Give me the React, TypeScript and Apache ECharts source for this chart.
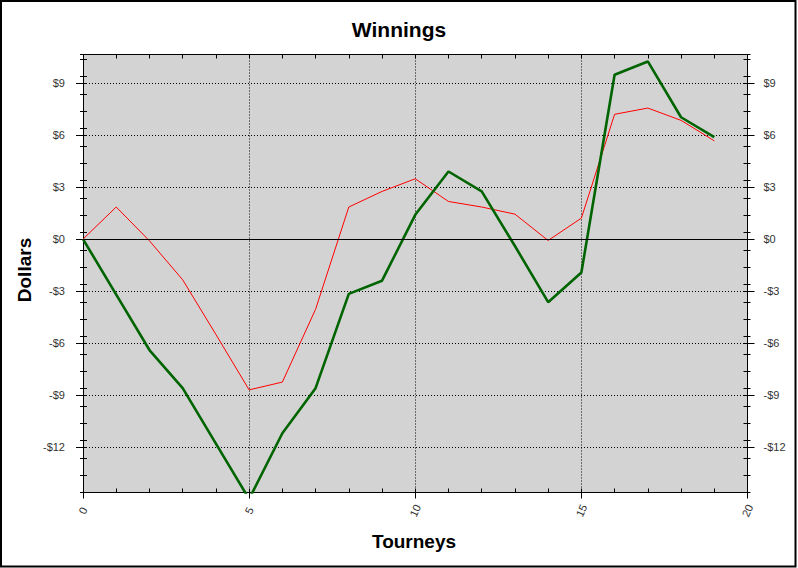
import React, { useEffect, useRef } from "react";
import * as echarts from "echarts";

const tourneys = [0, 1, 2, 3, 4, 5, 6, 7, 8, 9, 10, 11, 12, 13, 14, 15, 16, 17, 18, 19];
const redSeries = [0, 1.85, -0.1, -2.35, -5.5, -8.7, -8.25, -4.05, 1.85, 2.75, 3.48, 2.17, 1.85, 1.44, -0.08, 1.21, 7.2, 7.56, 6.85, 5.67];
const greenSeries = [0, -3.2, -6.4, -8.6, -11.8, -15.0, -11.2, -8.6, -3.16, -2.4, 1.4, 3.9, 2.75, -0.4, -3.64, -1.93, 9.48, 10.25, 7.03, 5.88];
const yTickValues = [-12, -9, -6, -3, 0, 3, 6, 9];
const Y_MIN = -14.62;
const Y_MAX = 10.65;
const X_MIN = 0;
const X_MAX = 20;

const FONT = "'Liberation Sans', Arial, sans-serif";

const fmt = (v: number) => (v < 0 ? "-$" + Math.abs(v) : "$" + v);

export default function App() {
  const ref = useRef<HTMLDivElement>(null);
  useEffect(() => {
    if (!ref.current) return;
    const chart = echarts.init(ref.current, null, { renderer: "svg" });
    const hidden = { show: false };
    const yBase = (position: "left" | "right") => ({
      type: "value" as const,
      position,
      min: Y_MIN,
      max: Y_MAX,
      axisLine: { show: false, onZero: false },
      axisLabel: { show: false },
      splitLine: hidden,
      axisTick: { show: false },
    });
    const yAxes: any[] = [];
    (["left", "right"] as const).forEach((pos) => {
      yAxes.push({
        ...yBase(pos),
        axisLine: { show: true, onZero: false, lineStyle: { color: "#000", width: 1 } },
        axisTick: { show: true, inside: false, length: 7, customValues: yTickValues, lineStyle: { color: "#000", width: 1 } },
        axisLabel: {
          show: true,
          customValues: yTickValues,
          formatter: fmt,
          margin: pos === "left" ? 18 : 16,
          color: "#333",
          fontFamily: FONT,
          fontSize: 11,
        },
        splitLine: pos === "left"
          ? { show: true, lineStyle: { color: "#000", type: [1, 2], width: 1 } }
          : hidden,
      });
      yAxes.push({
        ...yBase(pos),
        axisTick: { show: true, inside: true, length: 4, customValues: yTickValues, lineStyle: { color: "#000", width: 1 } },
      });
      yAxes.push({
        ...yBase(pos),
        interval: 1,
        axisTick: { show: true, inside: true, length: 4, lineStyle: { color: "#000", width: 1 } },
      });
      yAxes.push({
        ...yBase(pos),
        interval: 1,
        axisTick: { show: true, inside: false, length: 3, lineStyle: { color: "#000", width: 1 } },
      });
    });

    const xBase = (position: "bottom" | "top") => ({
      type: "value" as const,
      position,
      min: X_MIN,
      max: X_MAX,
      axisLine: { show: false, onZero: false },
      axisLabel: { show: false },
      splitLine: hidden,
      axisTick: { show: false },
    });
    const xAxes: any[] = [
      {
        ...xBase("bottom"),
        interval: 5,
        axisLine: { show: true, onZero: false, lineStyle: { color: "#000", width: 1 } },
        axisTick: { show: true, inside: false, length: 6, lineStyle: { color: "#000", width: 1 } },
        axisLabel: {
          show: true,
          rotate: 65,
          align: "center",
          verticalAlign: "middle",
          margin: 18,
          color: "#333",
          fontFamily: FONT,
          fontSize: 11,
        },
        splitLine: { show: true, lineStyle: { color: "#000", type: [1, 2], width: 1 } },
      },
      {
        ...xBase("bottom"),
        interval: 1,
        axisTick: { show: true, inside: true, length: 4, lineStyle: { color: "#000", width: 1 } },
      },
      {
        ...xBase("top"),
        interval: 1,
        axisLine: { show: true, onZero: false, lineStyle: { color: "#000", width: 1 } },
        axisTick: { show: true, inside: true, length: 4, lineStyle: { color: "#000", width: 1 } },
      },
    ];

    chart.setOption({
      animation: false,
      backgroundColor: "#fff",
      title: {
        text: "Winnings",
        left: "center",
        top: 14,
        textStyle: { fontFamily: FONT, fontSize: 21, fontWeight: "bold", color: "#000" },
      },
      grid: {
        left: 83,
        right: 50.5,
        top: 54.5,
        bottom: 75.5,
        show: true,
        backgroundColor: "#d3d3d3",
        borderWidth: 0,
      },
      xAxis: xAxes,
      yAxis: yAxes,
      graphic: [
        {
          type: "rect",
          shape: { x: 1, y: 1, width: 794.5, height: 565.5 },
          style: { fill: "none", stroke: "#000", lineWidth: 2 },
          silent: true,
        },
        {
          type: "text",
          x: 24,
          y: 270,
          rotation: Math.PI / 2,
          style: {
            text: "Dollars",
            fill: "#000",
            font: `bold 19px ${FONT}`,
            textAlign: "center",
            textVerticalAlign: "middle",
          },
        },
        {
          type: "text",
          x: 414,
          y: 541,
          style: {
            text: "Tourneys",
            fill: "#000",
            font: `bold 19px ${FONT}`,
            textAlign: "center",
            textVerticalAlign: "middle",
          },
        },
      ],
      series: [
        {
          name: "Expected",
          type: "line",
          xAxisIndex: 0,
          yAxisIndex: 0,
          data: tourneys.map((t, i) => [t, redSeries[i]]),
          showSymbol: false,
          symbol: "none",
          lineStyle: { color: "#ff0000", width: 1 },
          clip: true,
          markLine: {
            silent: true,
            symbol: "none",
            label: { show: false },
            lineStyle: { color: "#000", type: "solid", width: 1 },
            data: [{ yAxis: 0 }],
          },
          z: 3,
        },
        {
          name: "Actual",
          type: "line",
          xAxisIndex: 0,
          yAxisIndex: 0,
          data: tourneys.map((t, i) => [t, greenSeries[i]]),
          showSymbol: false,
          symbol: "none",
          lineStyle: { color: "#006400", width: 2.6 },
          clip: true,
          z: 4,
        },
      ],
    });
    return () => chart.dispose();
  }, []);
  return (
    <div
      ref={ref}
      style={{ position: "absolute", left: 0, top: 0, width: 798, height: 568 }}
    />
  );
}
